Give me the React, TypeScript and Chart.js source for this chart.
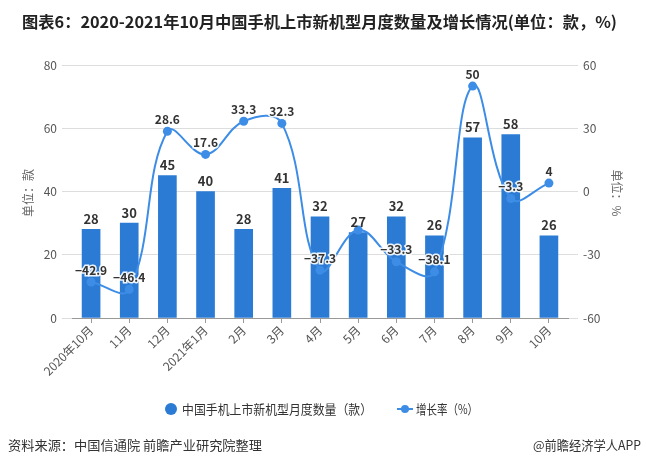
import React, { useEffect, useRef } from "react";
import { Chart, registerables } from "chart.js";

Chart.register(...registerables);

const categories = ["2020年10月", "11月", "12月", "2021年1月", "2月", "3月", "4月", "5月", "6月", "7月", "8月", "9月", "10月"];
const modelCounts = [28, 30, 45, 40, 28, 41, 32, 27, 32, 26, 57, 58, 26];
const growthRates = [-42.9, -46.4, 28.6, 17.6, 33.3, 32.3, -37.3, -18.3, -33.3, -38.1, 50, -3.3, 4];
const growthLabelShown = [true, true, true, true, true, true, true, false, true, true, true, true, true];
const leftTicks = [0, 20, 40, 60, 80];
const rightTicks = [-60, -30, 0, 30, 60];

const TITLE = "图表6：2020-2021年10月中国手机上市新机型月度数量及增长情况(单位：款，%)";
const SOURCE = "资料来源：中国信通院 前瞻产业研究院整理";
const BRAND = "@前瞻经济学人APP";
const BAR_NAME = "中国手机上市新机型月度数量（款）";
const LINE_NAME = "增长率（%）";

const BAR_COLOR = "#2b7bd4";
const LINE_COLOR = "#3d8de6";
const FONT = "'Noto Sans CJK SC', 'Noto Sans', sans-serif";

function fitText(ctx: any, text: string, x: number, y: number, width: number) {
  const w = ctx.measureText(text).width;
  ctx.save();
  ctx.translate(x, y);
  ctx.scale(width / w, 1);
  ctx.fillText(text, 0, 0);
  ctx.restore();
}

const decorPlugin = {
  id: "decor",
  afterDatasetsDraw(chart: any) {
    const ctx = chart.ctx;
    ctx.save();
    const barMeta = chart.getDatasetMeta(0);
    ctx.font = `bold 13px ${FONT}`;
    ctx.fillStyle = "#333";
    ctx.textAlign = "center";
    ctx.textBaseline = "bottom";
    barMeta.data.forEach((el: any, i: number) => {
      ctx.fillText(String(modelCounts[i]), el.x, el.y - 4);
    });
    const lineMeta = chart.getDatasetMeta(1);
    ctx.font = `bold 12px ${FONT}`;
    ctx.lineWidth = 3;
    ctx.strokeStyle = "rgba(255,255,255,0.9)";
    lineMeta.data.forEach((el: any, i: number) => {
      if (!growthLabelShown[i]) return;
      const t = String(growthRates[i]).replace("-", "−");
      ctx.strokeText(t, el.x, el.y - 6);
      ctx.fillStyle = "#333";
      ctx.fillText(t, el.x, el.y - 6);
    });
    ctx.restore();
  },
  afterDraw(chart: any) {
    const ctx = chart.ctx;
    ctx.save();
    ctx.font = `bold 16px ${FONT}`;
    ctx.fillStyle = "#222";
    ctx.textAlign = "left";
    ctx.textBaseline = "middle";
    fitText(ctx, TITLE, 22, 22, 595);

    ctx.font = `12px ${FONT}`;
    ctx.fillStyle = "#666";
    ctx.textAlign = "center";
    ctx.save();
    ctx.translate(28, 193);
    ctx.rotate(-Math.PI / 2);
    ctx.fillText("单位：款", 0, 0);
    ctx.restore();
    ctx.save();
    ctx.translate(617, 193);
    ctx.rotate(Math.PI / 2);
    ctx.fillText("单位：%", 0, 0);
    ctx.restore();

    const ly = 409;
    ctx.fillStyle = BAR_COLOR;
    ctx.beginPath();
    ctx.arc(171, ly, 6, 0, Math.PI * 2);
    ctx.fill();
    ctx.font = `13px ${FONT}`;
    ctx.fillStyle = "#333";
    ctx.textAlign = "left";
    fitText(ctx, BAR_NAME, 182, ly, 190);
    ctx.strokeStyle = LINE_COLOR;
    ctx.lineWidth = 2;
    ctx.beginPath();
    ctx.moveTo(397, ly);
    ctx.lineTo(413, ly);
    ctx.stroke();
    ctx.fillStyle = LINE_COLOR;
    ctx.beginPath();
    ctx.arc(405, ly, 4, 0, Math.PI * 2);
    ctx.fill();
    ctx.fillStyle = "#333";
    fitText(ctx, LINE_NAME, 416, ly, 62);

    ctx.font = `13px ${FONT}`;
    ctx.fillStyle = "#333";
    fitText(ctx, SOURCE, 8, 445, 254);
    fitText(ctx, BRAND, 641 - 108, 445, 108);
    ctx.restore();
  },
};

export default function App() {
  const ref = useRef<HTMLCanvasElement | null>(null);
  useEffect(() => {
    document.body.style.margin = "0";
    const canvas = ref.current!;
    const chart = new Chart(canvas, {
      data: {
        labels: categories,
        datasets: [
          {
            type: "bar",
            label: BAR_NAME,
            data: modelCounts,
            backgroundColor: BAR_COLOR,
            yAxisID: "y",
            barThickness: 18,
            order: 2,
          },
          {
            type: "line",
            label: LINE_NAME,
            data: growthRates,
            borderColor: LINE_COLOR,
            backgroundColor: LINE_COLOR,
            borderWidth: 2,
            pointRadius: 4.5,
            pointBackgroundColor: LINE_COLOR,
            pointBorderWidth: 0,
            tension: 0.4,
            yAxisID: "y1",
            order: 1,
          },
        ],
      } as any,
      options: {
        responsive: false,
        animation: false,
        devicePixelRatio: 1,
        layout: { padding: { top: 65, left: 0, right: 0, bottom: 0 } },
        plugins: { legend: { display: false }, tooltip: { enabled: false }, title: { display: false } },
        scales: {
          x: {
            grid: { display: true, drawOnChartArea: false, tickLength: 5, color: "#999", offset: false },
            border: { color: "#999" },
            ticks: {
              minRotation: 45,
              maxRotation: 45,
              color: "#555",
              font: { size: 12, family: FONT },
              padding: 0,
              autoSkip: false,
            },
            afterFit(scale: any) {
              scale.height = 461 - 318;
            },
          },
          y: {
            position: "left",
            min: 0,
            max: 80,
            afterBuildTicks(scale: any) {
              scale.ticks = leftTicks.map((v) => ({ value: v }));
            },
            grid: { color: "#ddd", tickLength: 10 },
            border: { display: false },
            ticks: { color: "#555", font: { size: 12, family: FONT }, padding: 5 },
            afterFit(scale: any) {
              scale.width = 72;
            },
          },
          y1: {
            position: "right",
            min: -60,
            max: 60,
            afterBuildTicks(scale: any) {
              scale.ticks = rightTicks.map((v) => ({ value: v }));
            },
            grid: { drawOnChartArea: false, color: "#ddd", tickLength: 10 },
            border: { display: false },
            ticks: { color: "#555", font: { size: 12, family: FONT }, padding: 5 },
            afterFit(scale: any) {
              scale.width = 646 - 568;
            },
          },
        },
      } as any,
      plugins: [decorPlugin],
    });
    return () => chart.destroy();
  }, []);
  return (
    <div style={{ position: "relative", width: 646, height: 461, background: "#fff" }}>
      <canvas ref={ref} width={646} height={461} style={{ display: "block", width: 646, height: 461 }} />
    </div>
  );
}
